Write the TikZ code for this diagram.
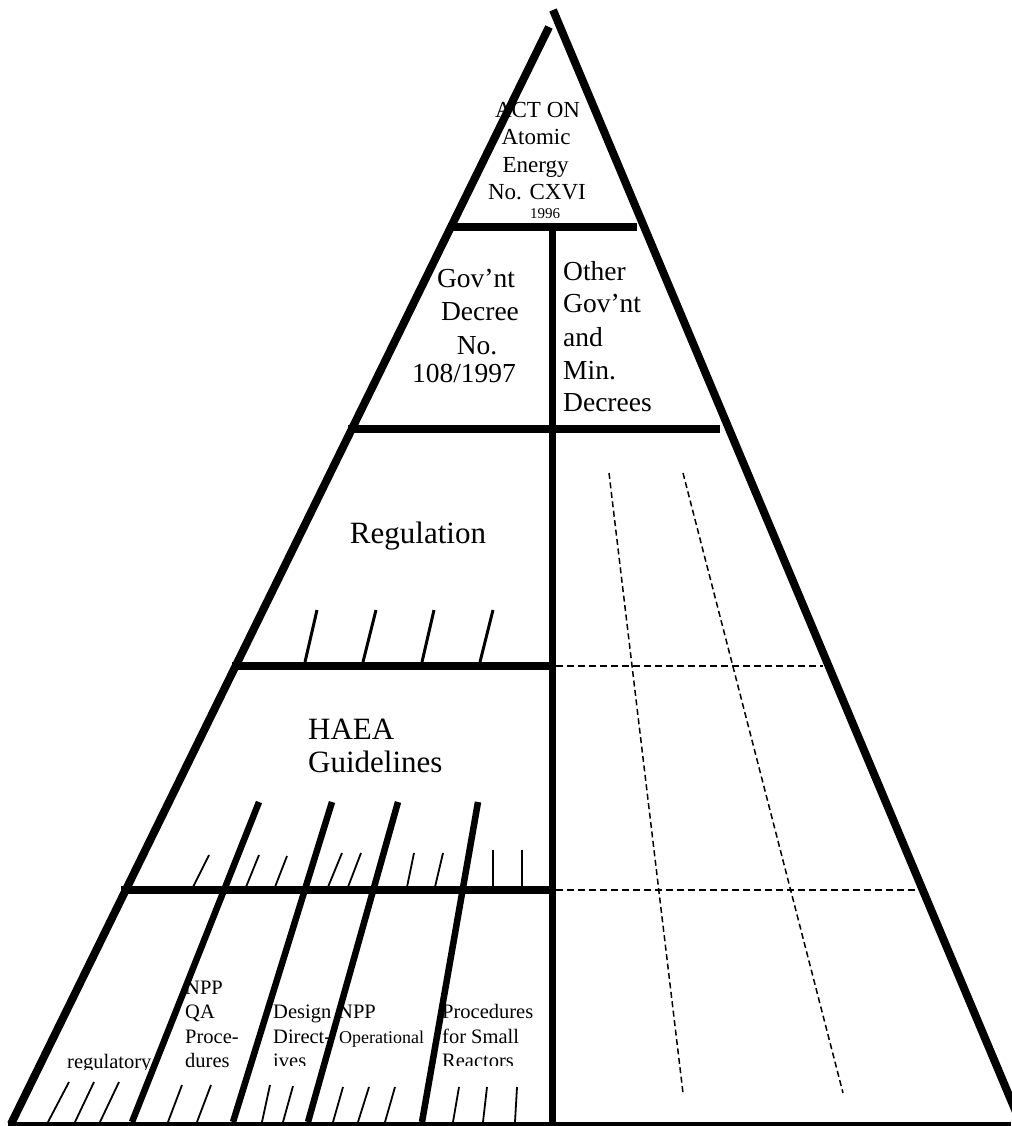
\documentclass[tikz,border=0pt]{standalone}
\usepackage{fontspec}
\setmainfont{Liberation Serif}
\begin{document}
\begin{tikzpicture}[x=1pt,y=-1pt,
  edge/.style={line width=8pt},
  spine/.style={line width=7pt},
  bar/.style={line width=8.5pt},
  divider/.style={line width=6.5pt},
  bigtick/.style={line width=3pt},
  tick/.style={line width=1.8pt},
  guide/.style={line width=1.5pt, dash pattern=on 7pt off 4pt},
  lbl/.style={inner sep=0pt, anchor=base west},
  clbl/.style={inner sep=0pt, anchor=base},
  fA/.style={font=\fontsize{23}{27}\selectfont},
  fY/.style={font=\fontsize{15}{18}\selectfont},
  fB/.style={font=\fontsize{27.5}{33}\selectfont},
  fC/.style={font=\fontsize{31}{36}\selectfont},
  fD/.style={font=\fontsize{20.5}{24}\selectfont},
  fE/.style={font=\fontsize{18}{22}\selectfont},
]
\useasboundingbox (0,0) rectangle (1011,1126);

% outline of the pyramid
\coordinate (apexL) at (549,27);
\coordinate (baseL) at (11,1124);
\coordinate (apexR) at (553,10);
\coordinate (baseR) at (1016,1112);
\draw[edge] (apexL) -- (baseL);
\draw[edge] (apexR) -- (baseR);
\draw[line width=4pt] (8,1123.5) -- (1011,1123.5);

% central spine
\coordinate (spineT) at (552,227);
\coordinate (spineB) at (552,1126);
\draw[spine] (spineT) -- (spineB);

% level bars
\draw[bar] (448,227) -- (637,227);
\draw[bar] (348,429) -- (720,429);
\draw[bar] (232,666) -- (552,666);
\draw[bar] (121,890) -- (552,890);

% dividers between procedure groups
\foreach \a/\b/\c/\d in {259/802/132/1122, 332/802/233/1122, 398/802/308/1122, 478/802/422/1122}
  \draw[divider] (\a,\b) -- (\c,\d);

% ticks under Regulation
\foreach \a/\c in {305/317, 363/376, 422/434, 480/493}
  \draw[bigtick] (\a,662) -- (\c,610);

% ticks under HAEA Guidelines
\foreach \a/\c/\d in {193/209/855, 246/259/855, 275/287/856, 328/342/853, 348/361/853,
                      407/414/853, 435/443/853, 493/493/850, 522/522/850}
  \draw[tick] (\a,887) -- (\c,\d);

% ticks along the base
\foreach \a/\c/\d in {48/69/1082, 75/94/1082, 100/119/1082,
                      168/182/1085, 197/211/1085,
                      262/270/1085, 283/293/1086,
                      333/343/1087, 358/369/1087, 385/395/1087,
                      453/459/1087, 483/487/1087, 515/517/1087}
  \draw[tick] (\a,1122) -- (\c,\d);

% dashed grid on the right half
\draw[guide] (556,666) -- (823,666);
\draw[guide] (556,890) -- (917,890);
\draw[guide, dash pattern=on 6pt off 3.5pt] (609,473) -- (683,1093);
\draw[guide, dash pattern=on 6pt off 3.5pt] (683,473) -- (843,1093);

% top level
\node[clbl, fA] (act1) at (537.5,118) {ACT ON};
\node[clbl, fA] (act2) at (536,145) {Atomic};
\node[clbl, fA] (act3) at (535.5,172) {Energy};
\node[clbl, fA] (act4) at (537,200) {No. CXVI};
\node[clbl, fY] (act5) at (545,218) {1996};

% decrees
\node[clbl, fB] (gd1) at (476,287) {Gov’nt};
\node[clbl, fB] (gd2) at (480,320) {Decree};
\node[clbl, fB] (gd3) at (477,354) {No.};
\node[clbl, fB] (gd4) at (464,382) {108/1997};

\node[lbl, fB] (od1) at (563,280) {Other};
\node[lbl, fB] (od2) at (563,312) {Gov’nt};
\node[lbl, fB] (od3) at (563,346) {and};
\node[lbl, fB] (od4) at (563,379) {Min.};
\node[lbl, fB] (od5) at (563,411) {Decrees};

% regulation and guidelines
\node[clbl, fC] (reg) at (418,543) {Regulation};
\node[lbl, fC] (haea1) at (308,739) {HAEA};
\begin{scope}
  \clip (300,745) rectangle (460,773);
  \node[lbl, fC] (haea2) at (308,772) {Guidelines};
\end{scope}

% procedure groups
\begin{scope}
  \clip (60,1040) rectangle (160,1069);
  \node[lbl, fD] (p0) at (67,1068) {regulatory};
\end{scope}

\node[lbl, fD] (q1) at (185,994) {NPP};
\node[lbl, fD] (q2) at (185,1018) {QA};
\node[lbl, fD] (q3) at (185,1043) {Proce-};
\node[lbl, fD] (q4) at (185,1067) {dures};

\node[lbl, fD] (d1) at (273,1018) {Design};
\node[lbl, fD] (d2) at (273,1043) {Direct-};
\begin{scope}
  \clip (265,1045) rectangle (330,1065);
  \node[lbl, fD] (d3) at (273,1067) {ives};
\end{scope}

\node[lbl, fD] (o1) at (338,1018) {NPP};
\node[lbl, fE] (o2) at (339,1043) {Operational};

\node[lbl, fD] (r1) at (442,1018) {Procedures};
\node[lbl, fD] (r2) at (442,1043) {for Small};
\begin{scope}
  \clip (435,1045) rectangle (545,1065);
  \node[lbl, fD] (r3) at (442,1067) {Reactors};
\end{scope}
\end{tikzpicture}
\end{document}
